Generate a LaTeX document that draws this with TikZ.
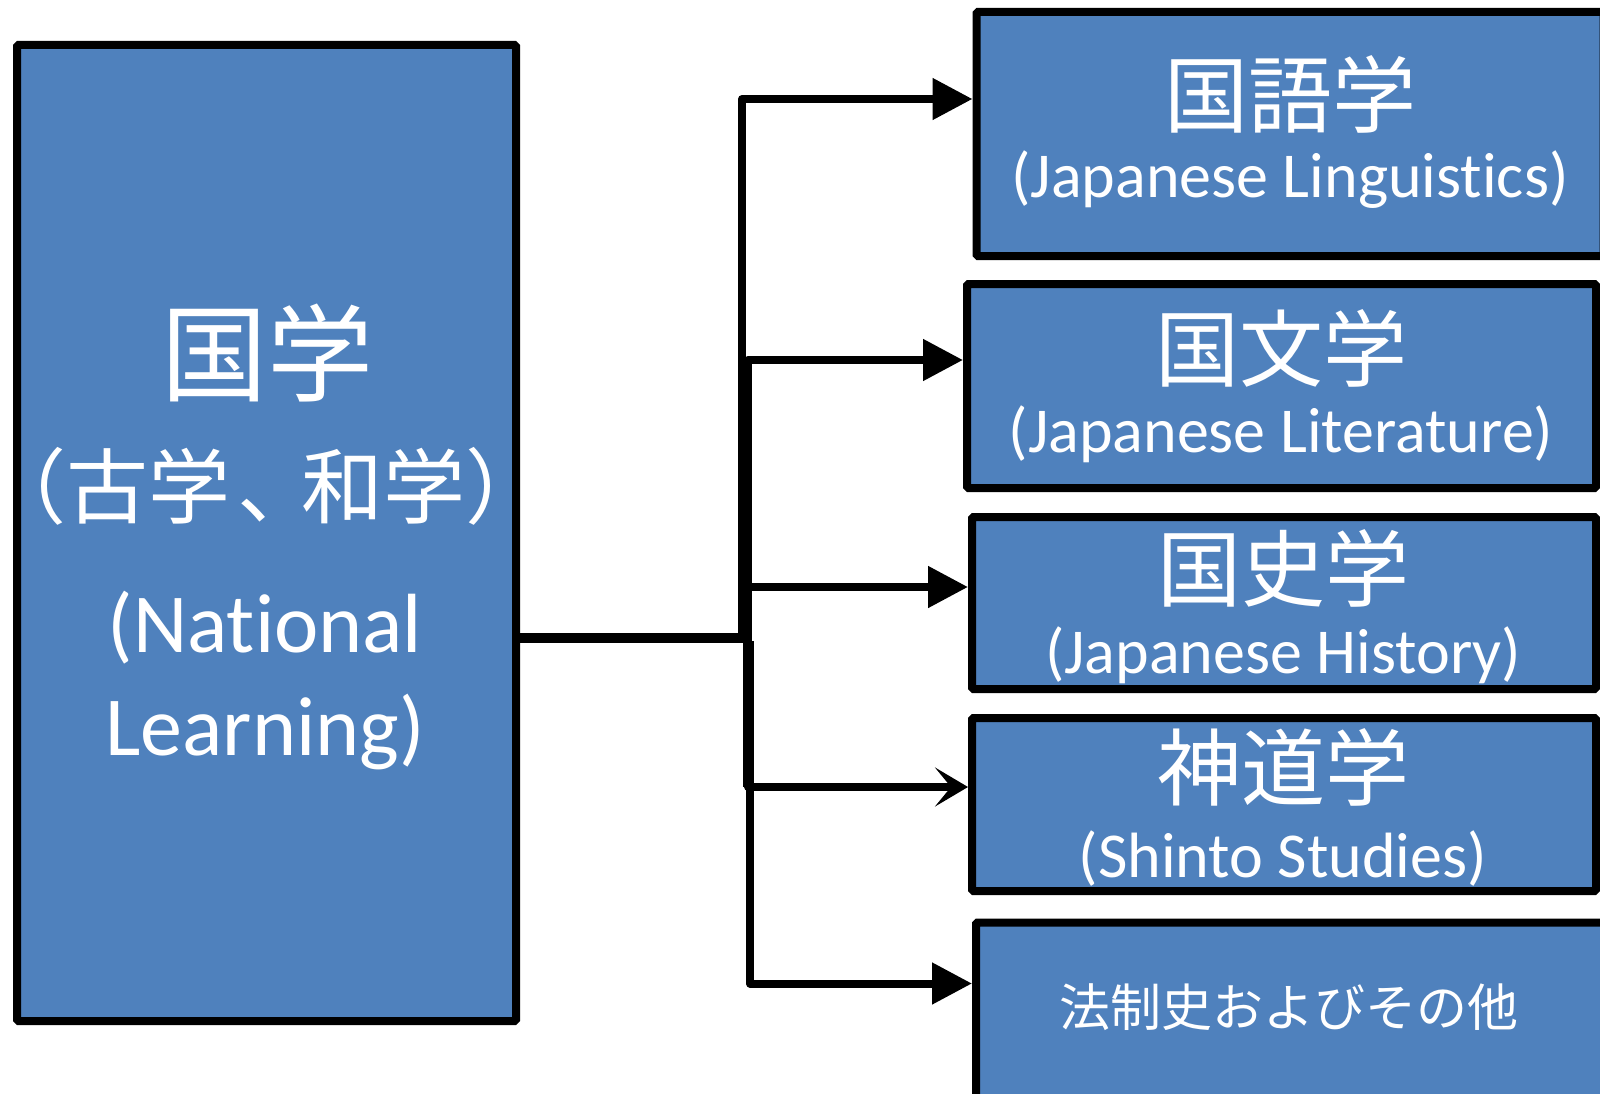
\documentclass[tikz,border=0pt]{standalone}
\usepackage{fontspec}
\setmainfont{Carlito}[Ligatures=CommonOff]
\newfontfamily\jp{Noto Sans CJK JP}
\usetikzlibrary{arrows.meta,calc}
\definecolor{boxblue}{HTML}{4F81BD}
\tikzset{
  box/.style={draw=black, line width=8pt, fill=boxblue, rectangle, inner sep=0pt, rounded corners=1.5pt},
  conn/.style={draw=black, line width=8pt, line join=round},
  tri/.style={-{Triangle[length=40pt,width=40pt]}},
  chevron/.style={-{Stealth[length=33pt,width=39pt,inset=16pt]}},
  jtxt/.style={text=white, inner sep=0pt, font=\jp},
  etxt/.style={text=white, inner sep=0pt, anchor=base},
}
\begin{document}
\begin{tikzpicture}[x=1pt,y=-1pt]
\useasboundingbox (0,0) rectangle (1600,1094);
% boxes
\node[box, minimum width=499pt, minimum height=976pt] (L) at (266.5,533) {};
\node[box, minimum width=627pt, minimum height=244pt] (B1) at (1290,134) {};
\node[box, minimum width=629pt, minimum height=204pt] (B2) at (1281.5,386) {};
\node[box, minimum width=624pt, minimum height=172pt] (B3) at (1284,603) {};
\node[box, minimum width=624pt, minimum height=173pt] (B4) at (1284,804.5) {};
\node[box, minimum width=634pt, minimum height=190pt] (B5) at (1293,1017.5) {};
% texts
\node[jtxt, font=\jp\fontsize{106}{110}\selectfont] (t0a) at (267,353) {国学};
\node[jtxt, font=\jp\fontsize{82}{90}\selectfont] (t0b) at (266,486) {（古学\kern0.08em、\kern-0.22em和学）};
\node[etxt, font=\fontsize{84}{100}\selectfont] (t0c) at (265,652) {(National};
\node[etxt, font=\fontsize{84}{100}\selectfont] (t0d) at (265,755) {Learning)};
\node[jtxt, font=\jp\fontsize{84}{90}\selectfont] (t1a) at (1290,94) {国語学};
\node[etxt, font=\fontsize{64}{76}\selectfont] (t1b) at (1290,197) {(Japanese Linguistics)};
\node[jtxt, font=\jp\fontsize{84}{90}\selectfont] (t2a) at (1281,348) {国文学};
\node[etxt, font=\fontsize{64}{76}\selectfont] (t2b) at (1281,452) {(Japanese Literature)};
\node[jtxt, font=\jp\fontsize{84}{90}\selectfont] (t3a) at (1283,568) {国史学};
\node[etxt, font=\fontsize{64}{76}\selectfont] (t3b) at (1283,673) {(Japanese History)};
\node[jtxt, font=\jp\fontsize{84}{90}\selectfont] (t4a) at (1283,767) {神道学};
\node[etxt, font=\fontsize{64}{76}\selectfont] (t4b) at (1283,877) {(Shinto Studies)};
\node[jtxt, font=\jp\fontsize{51}{60}\selectfont] (t5a) at (1289,1007) {法制史およびその他};
% connectors
\coordinate (J) at (747,638);
\coordinate (S) at (L.east |- J);
\coordinate (JA) at (742,638);
\coordinate (JB) at (748,641);
\coordinate (JC) at (750,641);
\draw[conn, line width=10pt] (S) -- (J);
\draw[conn, tri] (JA) |- ([yshift=35pt]B1.west);
\draw[conn, tri] (JB) |- ([yshift=26pt]B2.west);
\draw[conn, tri] (JA) |- ([yshift=16pt]B3.west);
\draw[conn, line width=10pt] (JB) -- (JB |- 0,787);
\draw[conn, chevron] (JB) |- ([yshift=17.5pt]B4.west);
\draw[conn, tri] (JC) |- ([yshift=34pt]B5.west);
\end{tikzpicture}
\end{document}
